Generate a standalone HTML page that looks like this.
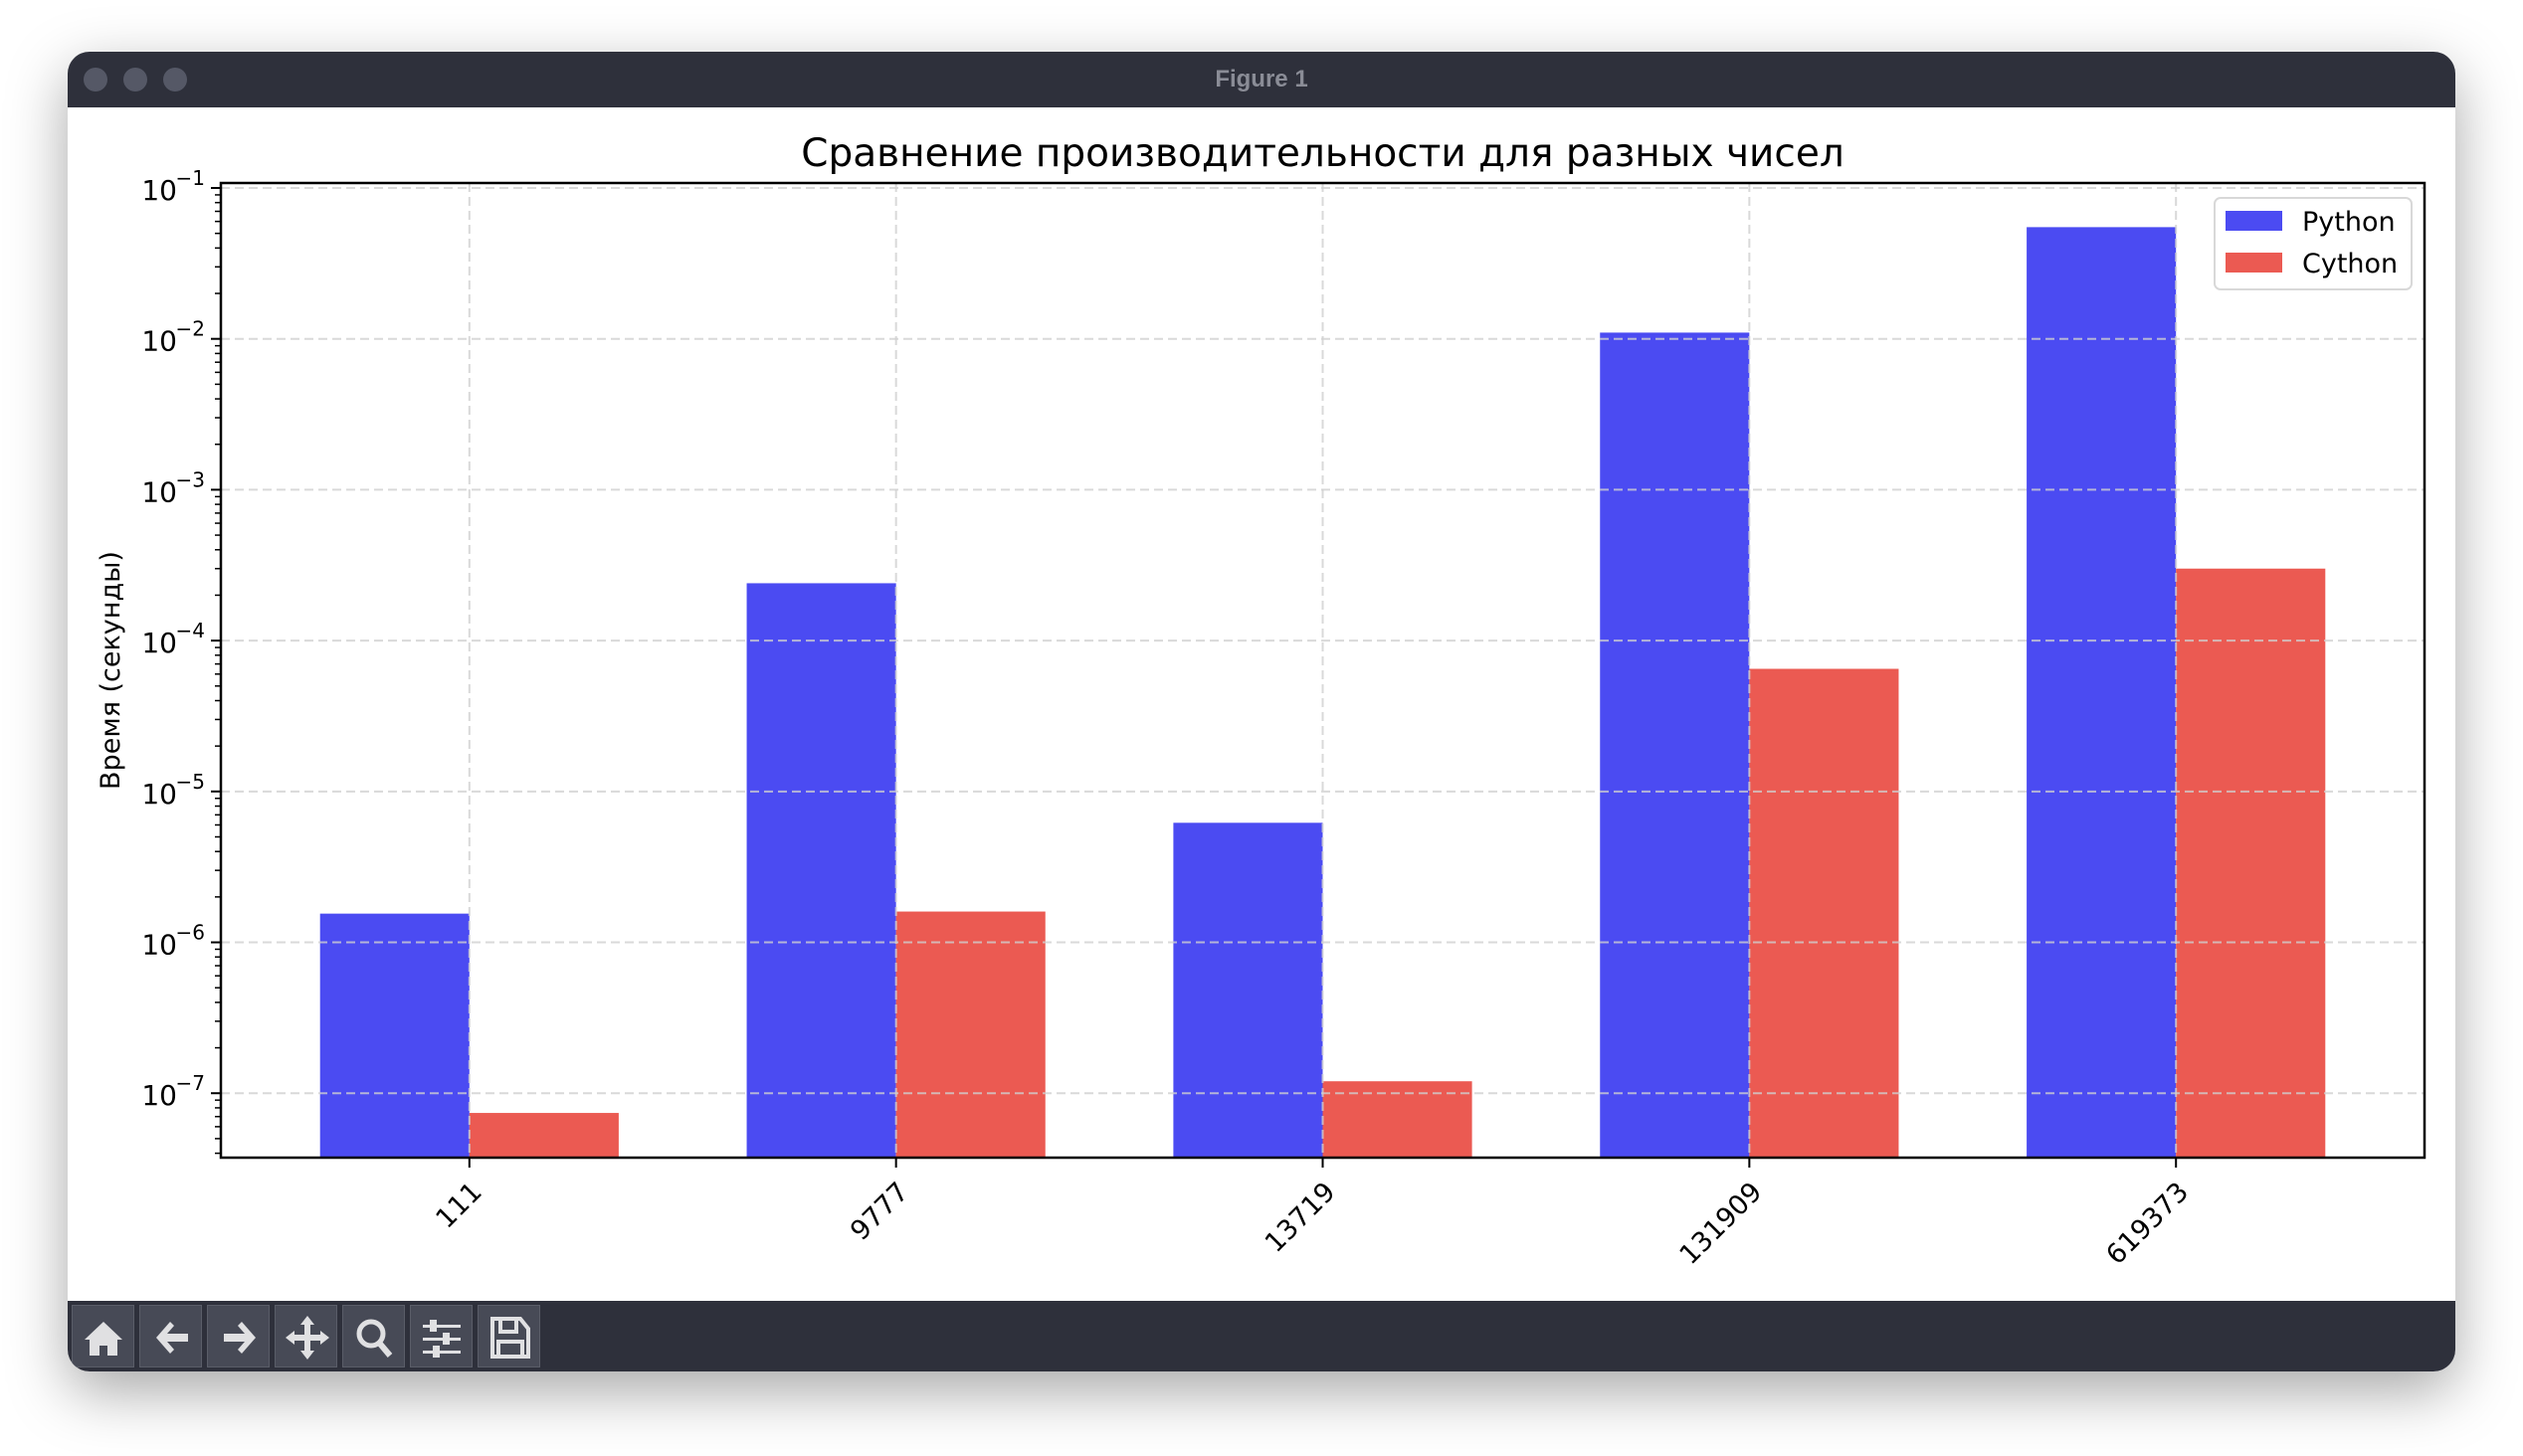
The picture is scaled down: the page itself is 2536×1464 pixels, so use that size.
<!DOCTYPE html>
<html><head><meta charset="utf-8">
<style>
body{margin:0;width:2536px;height:1464px;background:#fff;overflow:hidden;font-family:"DejaVu Sans","Liberation Sans",sans-serif;}
#win{position:absolute;left:68px;top:52px;width:2400px;height:1327px;border-radius:22px;background:#fff;box-shadow:0 20px 60px rgba(0,0,0,0.35);overflow:hidden;}
#titlebar{position:absolute;left:0;top:0;width:100%;height:56px;background:#2e303b;}
.dot{position:absolute;top:16px;width:24px;height:24px;border-radius:50%;background:#555866;}
#wtitle{position:absolute;width:100%;text-align:center;top:14px;color:#8a8c96;font-weight:bold;font-size:24px;font-family:"Liberation Sans",sans-serif;}
#toolbar{position:absolute;left:0;bottom:0;width:100%;height:71px;background:#2e303b;}
.tb{position:absolute;top:4px;width:63px;height:63px;background:#474a56;border:1px solid #5a5d68;box-sizing:border-box;}
</style></head><body>
<div id="win">
 <div id="titlebar">
  <div class="dot" style="left:16px"></div>
  <div class="dot" style="left:56px"></div>
  <div class="dot" style="left:96px"></div>
  <div id="wtitle">Figure 1</div>
 </div>
 <div id="toolbar">
  <div class="tb" style="left:4px"><svg width="63" height="63"><path d="M12 34 L31 16 L50 34 L45 34 L45 50 L35 50 L35 40 L27 40 L27 50 L17 50 L17 34 Z" fill="#e0e0e2"/></svg></div>
  <div class="tb" style="left:72px"><svg width="63" height="63"><path d="M16 32 L30 16 L34 20 L27 28 L48 28 L48 36 L27 36 L34 44 L30 48 Z" fill="#e0e0e2"/></svg></div>
  <div class="tb" style="left:140px"><svg width="63" height="63"><path d="M48 32 L34 16 L30 20 L37 28 L16 28 L16 36 L37 36 L30 44 L34 48 Z" fill="#e0e0e2"/></svg></div>
  <div class="tb" style="left:208px"><svg width="63" height="63"><path d="M32 10 L39 19 L35 19 L35 29 L45 29 L45 25 L54 32 L45 39 L45 35 L35 35 L35 45 L39 45 L32 54 L25 45 L29 45 L29 35 L19 35 L19 39 L10 32 L19 25 L19 29 L29 29 L29 19 L25 19 Z" fill="#e0e0e2"/></svg></div>
  <div class="tb" style="left:276px"><svg width="63" height="63"><circle cx="28" cy="28" r="12" fill="none" stroke="#e0e0e2" stroke-width="5"/><line x1="36" y1="37" x2="47" y2="50" stroke="#e0e0e2" stroke-width="6"/></svg></div>
  <div class="tb" style="left:344px"><svg width="63" height="63" fill="#e0e0e2"><rect x="12" y="19" width="38" height="3"/><rect x="12" y="32" width="38" height="3"/><rect x="12" y="45" width="38" height="3"/><rect x="19" y="14" width="7" height="12"/><rect x="32" y="27" width="7" height="12"/><rect x="22" y="40" width="7" height="12"/></svg></div>
  <div class="tb" style="left:412px"><svg width="63" height="63"><path d="M14 13 L42 13 L50 23 L50 51 L14 51 Z" fill="none" stroke="#e0e0e2" stroke-width="4"/><rect x="22" y="13" width="16" height="13" fill="none" stroke="#e0e0e2" stroke-width="4"/><rect x="20" y="36" width="24" height="15" fill="none" stroke="#e0e0e2" stroke-width="4"/></svg></div>
 </div>
</div>
<svg id="chart" width="2536" height="1464" style="position:absolute;left:0;top:0"></svg>
<script>
const categories=["111","9777","13719","131909","619373"];
const pythonTimes=[1.55e-6,2.4e-4,6.2e-6,1.1e-2,5.5e-2];
const cythonTimes=[7.4e-8,1.6e-6,1.2e-7,6.5e-5,3.0e-4];
const yTickExps=[-7,-6,-5,-4,-3,-2,-1];
const seriesNames=["Python","Cython"];

const NS="http://www.w3.org/2000/svg";
const FF='"DejaVu Sans","Liberation Sans",sans-serif';
const svg=document.getElementById('chart');
const L=222,R=2437,T=184,B=1164;
const xMin=-0.5825,xMax=4.5825,yLo=-7.427,yHi=-0.967;
const xs=v=>L+(v-xMin)/(xMax-xMin)*(R-L);
const ys=v=>B-(Math.log10(v)-yLo)/(yHi-yLo)*(B-T);
function mk(tag,attrs,parent){const e=document.createElementNS(NS,tag);for(const k in attrs)e.setAttribute(k,attrs[k]);(parent||svg).appendChild(e);return e;}
const colors=["#4b4bf2","#eb5a52"];
const W=0.35;
[pythonTimes,cythonTimes].forEach((arr,s)=>{
 arr.forEach((v,i)=>{
  const x0=xs(i+(s===0?-W:0)),x1=xs(i+(s===0?0:W));
  const r=mk('rect',{x:x0,y:ys(v),width:x1-x0,height:B-ys(v),fill:colors[s]});
  
  
 });
});
yTickExps.forEach(e=>{
 const y=ys(Math.pow(10,e));
 const g=mk('line',{x1:L,x2:R,y1:y,y2:y,stroke:'#d0d0d0','stroke-width':2,'stroke-dasharray':'9,5','stroke-opacity':0.8});
 
 
});
categories.forEach((c,i)=>{
 const x=xs(i);
 const g=mk('line',{x1:x,x2:x,y1:T,y2:B,stroke:'#d0d0d0','stroke-width':2,'stroke-dasharray':'9,5','stroke-opacity':0.8});
 
 
 const t=mk('line',{x1:x,x2:x,y1:B,y2:B+10,stroke:'#000','stroke-width':2});
 
 
 const tx=mk('text',{x:0,y:0,'font-size':27,'text-anchor':'end',transform:`translate(${x+14},${B+36}) rotate(-45)`,'font-family':FF});
 tx.textContent=c;
 
 
});
yTickExps.forEach(e=>{
 const y=ys(Math.pow(10,e));
 const t=mk('line',{x1:L-10,x2:L,y1:y,y2:y,stroke:'#000','stroke-width':2});
 
 
 const tx=mk('text',{x:L-44,y:y+12,'font-size':28,'text-anchor':'end','font-family':FF});
 tx.textContent='10';
 
 
 const sp=mk('text',{x:L-16,y:y-3,'font-size':20,'text-anchor':'end','font-family':FF});
 sp.textContent='\u2212'+(-e);
 
 
 for(let m=2;m<=9;m++){
  const v=m*Math.pow(10,e-1);
  if(Math.log10(v)<yLo)continue;
  const yy=ys(v);
  const mt=mk('line',{x1:L-6,x2:L,y1:yy,y2:yy,stroke:'#000','stroke-width':1.5});
  
  
 }
});
const fr=mk('rect',{x:L,y:T,width:R-L,height:B-T,fill:'none',stroke:'#000','stroke-width':2.5});


const ti=mk('text',{x:(L+R)/2,y:167,'font-size':39,'text-anchor':'middle','font-family':FF});
ti.textContent='Сравнение производительности для разных чисел';


const yl=mk('text',{x:0,y:0,'font-size':27,'text-anchor':'middle',transform:`translate(120,${(T+B)/2}) rotate(-90)`,'font-family':FF});
yl.textContent='Время (секунды)';


const lg=mk('rect',{x:2226,y:199,width:198,height:92,rx:6,fill:'#fff',stroke:'#d8d8d8','stroke-width':2});


seriesNames.forEach((n,i)=>{
 const sw=mk('rect',{x:2237,y:212+i*42,width:57,height:20,fill:colors[i]});
 
 
 const t=mk('text',{x:2314,y:232+i*42,'font-size':27,'font-family':FF});
 t.textContent=n;
 
 
});
</script>
</body></html>
